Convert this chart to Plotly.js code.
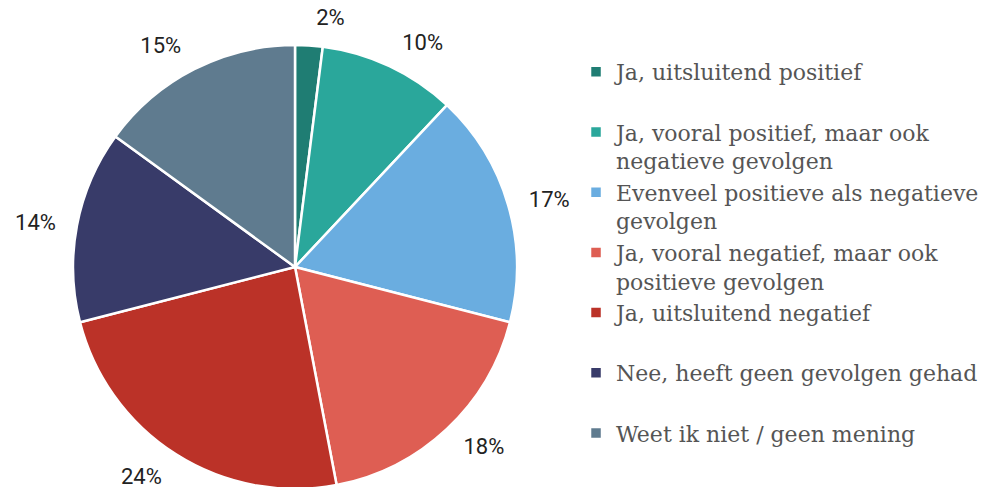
<!DOCTYPE html>
<html>
<head>
<meta charset="utf-8">
<script src="https://cdn.plot.ly/plotly-3.0.1.min.js"></script>
<style>
html,body{margin:0;padding:0;overflow:hidden;background:#fff;}
#chart{width:999px;height:510px;}
</style>
</head>
<body>
<div id="chart"></div>
<script>
const categories = [
  "Ja, uitsluitend positief",
  "Ja, vooral positief, maar ook<br>negatieve gevolgen",
  "Evenveel positieve als negatieve<br>gevolgen",
  "Ja, vooral negatief, maar ook<br>positieve gevolgen",
  "Ja, uitsluitend negatief",
  "Nee, heeft geen gevolgen gehad",
  "Weet ik niet / geen mening"
];
const values = [2, 10, 17, 18, 24, 14, 15];
const colors = ["#1f7d73", "#2aa79b", "#6aade0", "#de5e53", "#bb3228", "#383b69", "#5f7b8f"];

// pad single-line legend entries to two lines so every entry has equal height
const legendLabels = categories.map(c => c.includes("<br>") ? c : c + "<br>\u00a0");

const pie = {
  type: "pie",
  labels: legendLabels,
  values: values,
  sort: false,
  direction: "clockwise",
  rotation: 0,
  marker: {colors: colors, line: {color: "#ffffff", width: 2.5}},
  textinfo: "none",
  hoverinfo: "label+percent",
  domain: {x: [0.0731, 0.5175], y: [0.04118, 0.91176]}
};

// transparent, slightly larger copy that carries the percentage labels a bit further out
const labelRing = {
  type: "pie",
  labels: legendLabels,
  values: values,
  sort: false,
  direction: "clockwise",
  rotation: 0,
  showlegend: false,
  marker: {colors: values.map(() => "rgba(0,0,0,0)"), line: {width: 0}},
  textposition: "outside",
  texttemplate: "%{value}%",
  textfont: {family: "Roboto, sans-serif", size: 22, color: "#222222"},
  hoverinfo: "skip",
  domain: {x: [0.05806, 0.53253], y: [0.01176, 0.94118]}
};

const layout = {
  width: 999,
  height: 510,
  margin: {l: 0, r: 0, t: 0, b: 0},
  paper_bgcolor: "#ffffff",
  showlegend: true,
  legend: {
    x: 0.5766, y: 0.9, xanchor: "left", yanchor: "top",
    valign: "top",
    font: {family: "DejaVu Serif, serif", size: 22, color: "#555555"},
    itemwidth: 30,
    tracegroupgap: 0
  }
};

Plotly.newPlot("chart", [pie, labelRing], layout, {displayModeBar: false, staticPlot: true}).then(gd => {
  gd.querySelectorAll("path.textline").forEach(p => { p.style.strokeOpacity = 0; });
});
</script>
</body>
</html>
